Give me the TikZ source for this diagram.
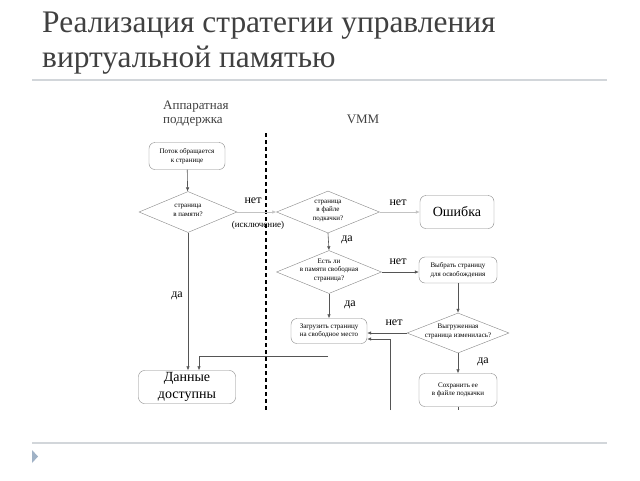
\documentclass[tikz,border=0pt]{standalone}
\usepackage{fontspec}
\setmainfont{Liberation Serif}
\usetikzlibrary{shapes.geometric,arrows.meta}
\definecolor{titlegray}{RGB}{64,64,64}
\definecolor{rulegray}{RGB}{210,214,218}
\definecolor{bulletblue}{RGB}{160,178,198}
\definecolor{linegray}{RGB}{85,85,85}
\definecolor{boxgray}{RGB}{135,135,135}
\newcommand{\dtxt}[1]{\smash{\makebox[0pt]{\begin{tabular}{@{}c@{}}#1\end{tabular}}}}
\tikzstyle{box} = [draw=boxgray, rounded corners=6pt, inner sep=0pt, align=center, font=\fontsize{7}{8.5}\selectfont]
\tikzstyle{bigbox} = [box, font=\fontsize{14}{17}\selectfont]
\tikzstyle{dec} = [draw=boxgray, diamond, inner sep=0pt, font=\fontsize{7}{8.5}\selectfont]
\tikzstyle{lbl} = [inner sep=0pt, font=\fontsize{12}{14}\selectfont]
\tikzstyle{flow} = [draw=linegray, line width=0.6pt, -{Latex[length=4pt,width=3.5pt]}]
\tikzstyle{faint} = [flow, draw=linegray!35]

\begin{document}
\begin{tikzpicture}[x=1pt, y=-1pt]
  \fill[white] (0,0) rectangle (640,480);
  \useasboundingbox (0,0) rectangle (640,480);
  % title and slide rules
  \node (title1) at (42,32) [anchor=base west, inner sep=0pt, text=titlegray, font=\fontsize{31.4}{35}\selectfont] {Реализация стратегии управления};
  \node (title2) at (42,67) [anchor=base west, inner sep=0pt, text=titlegray, font=\fontsize{31.4}{35}\selectfont] {виртуальной памятью};
  \draw[rulegray, line width=2pt] (32,80) -- (607,80);
  \draw[rulegray, line width=1.2pt] (32,443) -- (607,443);
  \fill[bulletblue] (32,450) -- (38,456.5) -- (32,463) -- cycle;
  % column heads
  \node (hw) at (163,114) [lbl, anchor=west, align=left, text=titlegray, font=\fontsize{13}{14}\selectfont] {Аппаратная\\поддержка};
  \node (vmm) at (363,119) [lbl, text=titlegray, font=\fontsize{13}{14}\selectfont] {VMM};
  \draw[line width=1.2pt, dash pattern=on 4pt off 3pt] (266,133) -- (266,410);
  % blocks
  \node (start) at (187,156) [box, minimum width=76pt, minimum height=27pt] {Поток обращается\\к странице};
  \node (q1) at (188,212) [dec, minimum width=98pt, minimum height=41pt] {\dtxt{страница\\в памяти?}};
  \node (q2) at (328,212) [dec, minimum width=103pt, minimum height=42pt] {\dtxt{страница\\в файле\\подкачки?}};
  \node (err) at (457,212) [bigbox, minimum width=74pt, minimum height=33pt] {Ошибка};
  \node (q3) at (329,272) [dec, minimum width=105pt, minimum height=43pt] {\dtxt{Есть ли\\в памяти свободная\\страница?}};
  \node (pick) at (458,270) [box, minimum width=78pt, minimum height=26pt] {Выбрать страницу\\для освобождения};
  \node (load) at (329,331) [box, minimum width=76pt, minimum height=25pt] {Загрузить страницу\\на свободное место};
  \node (q4) at (458,333) [dec, minimum width=102pt, minimum height=40pt] {\dtxt{Выгруженная\\страница изменилась?}};
  \node (save) at (458,390) [box, minimum width=78pt, minimum height=33pt] {Сохранить ее\\в файле подкачки};
  \node (data) at (187,387) [bigbox, minimum width=97pt, minimum height=33pt] {Данные\\доступны};
  % free ends
  \coordinate (saveout) at (458,410);
  \coordinate (loopin) at (390,410);
  \coordinate (loadout) at (328,356);
  % labels
  \node (no1) at (253,201) [lbl] {нет};
  \node (exc) at (258,225) [inner sep=0pt, font=\fontsize{9}{10}\selectfont] {(исключение)};
  \node (no2) at (398,203) [lbl] {нет};
  \node (yes2) at (347,240) [lbl] {да};
  \node (no3) at (398,262) [lbl] {нет};
  \node (yes3) at (350,305) [lbl] {да};
  \node (no4) at (394,323) [lbl] {нет};
  \node (yes4) at (483,362) [lbl] {да};
  \node (yes1) at (177,296) [lbl] {да};
  % connectors
  \draw [flow] (start) -- (q1);
  \draw [flow] (q1.south) -- (q1.south |- data.north);
  \draw [faint] (q1.east) -- (q2.west);
  \draw [faint] (q2.east) -- (err.west);
  \draw [flow] (q2.south) -- (q3.north);
  \draw [flow] (q3.east) -- (q3.east -| pick.west);
  \draw [flow] (q3.south) -- (load.north);
  \draw [flow] (pick.south) -- (q4.north);
  \draw [flow] (q4.west) -- (q4.west -| load.east);
  \draw [flow] (q4.south) -- (save.north);
  \draw [draw=linegray, line width=0.6pt] (save.south) -- (saveout);
  \draw [flow] (loopin) |- ([yshift=-8pt]load.east);
  \draw [flow] (loadout) -| ([xshift=12pt]data.north);
\end{tikzpicture}
\end{document}
